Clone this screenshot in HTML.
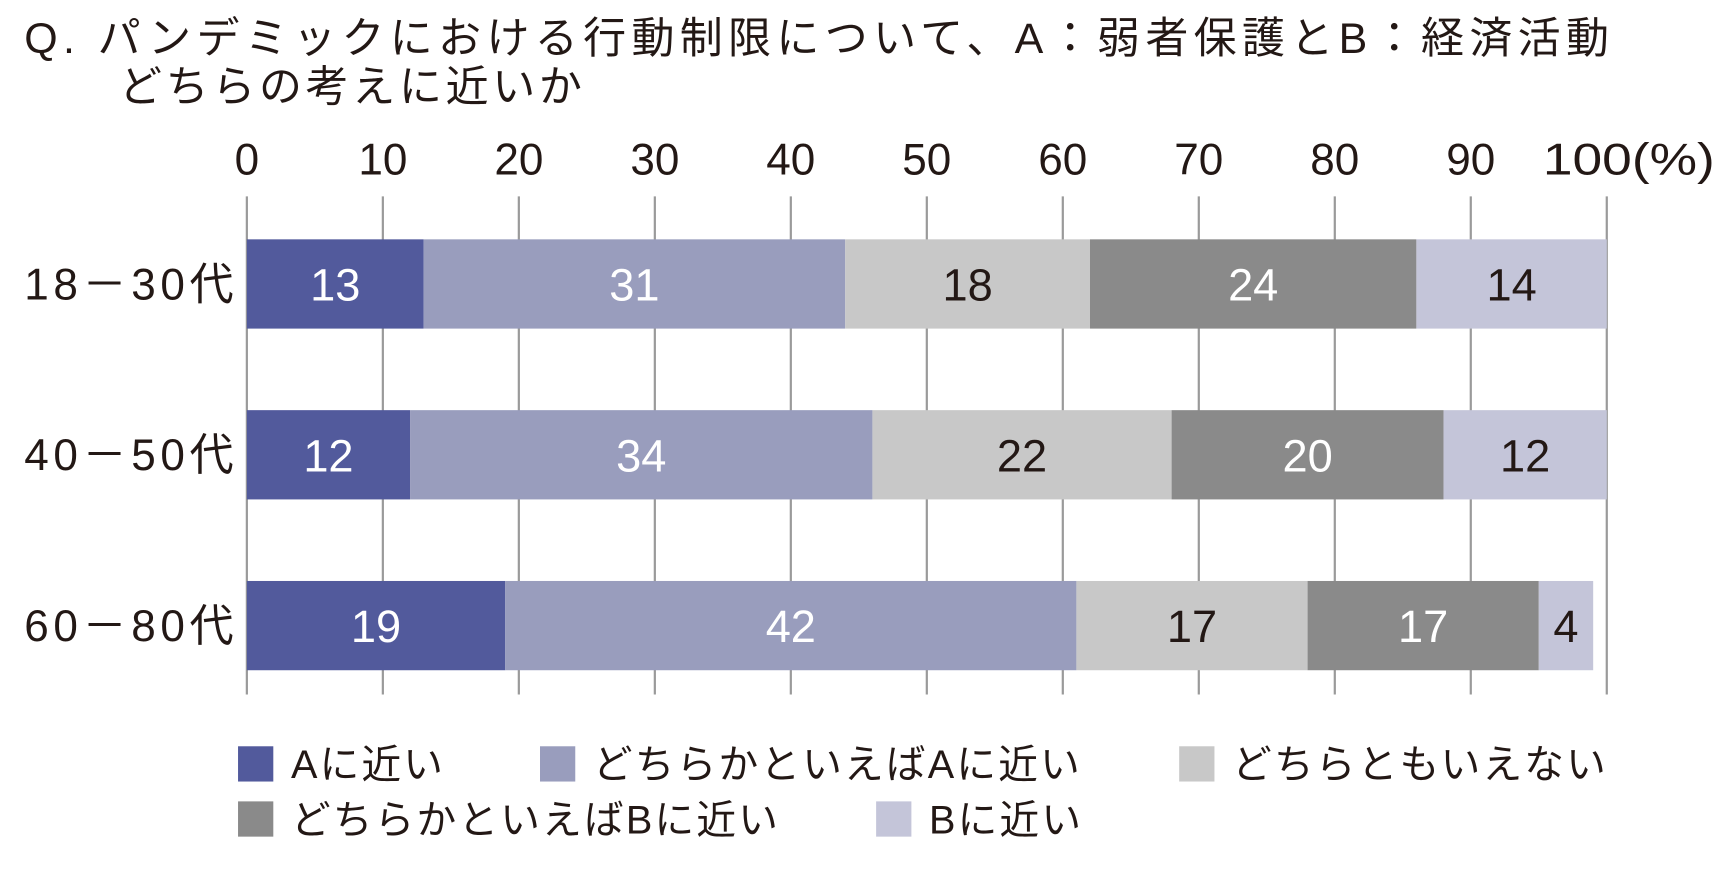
<!DOCTYPE html>
<html lang="ja"><head><meta charset="utf-8">
<style>
html,body{margin:0;padding:0;background:#fff;}
svg{display:block;font-family:"Liberation Sans","Noto Sans CJK JP",sans-serif;}
</style></head>
<body>
<svg id="chart" width="1728" height="871" viewBox="0 0 1568 790" xmlns="http://www.w3.org/2000/svg">
<text x="22" y="48" font-size="39" fill="#231815" textLength="1438" lengthAdjust="spacing">Q.  パンデミックにおける行動制限について、A：弱者保護とB：経済活動</text>
<text x="108" y="92" font-size="39" fill="#231815" textLength="420" lengthAdjust="spacing">どちらの考えに近いか</text>
<g id="grid"></g>
<g id="bars"></g>
<g id="legend"></g>
</svg>
<script>
const categories = ["18－30代","40－50代","60－80代"];
const seriesNames = ["Aに近い","どちらかといえばAに近い","どちらともいえない","どちらかといえばBに近い","Bに近い"];
const seriesA = [13,12,19];
const seriesLeanA = [31,34,42];
const seriesNeutral = [18,22,17];
const seriesLeanB = [24,20,17];
const seriesB = [14,12,4];
const tickLabels = [0,10,20,30,40,50,60,70,80,90,100];

const series = [seriesA, seriesLeanA, seriesNeutral, seriesLeanB, seriesB];
const colors = ["#525a9c","#999dbd","#c8c8c8","#8a8a8a","#c4c5d9"];
const textColors = ["#fff","#fff","#231815","#fff","#231815"];
const NS = "http://www.w3.org/2000/svg";
const x0 = 224, x1 = 1458;
const xs = v => x0 + (x1 - x0) * v / 100;
const rowY = i => 217 + i * 155;
const barH = 81;
function mk(tag, attrs, parent){const e=document.createElementNS(NS,tag);for(const k in attrs)e.setAttribute(k,attrs[k]);parent.appendChild(e);return e;}
const grid = document.getElementById('grid');
tickLabels.forEach(t=>{
  const l = mk('line',{x1:xs(t),x2:xs(t),y1:178,y2:630,stroke:'#9a9a9a','stroke-width':2},grid);
  
  
  const tx = mk('text',{x:xs(t),y:158,'font-size':40,'text-anchor':t===100?'start':'middle',fill:'#231815'},grid);
  if(t===100){tx.setAttribute('x',1400);tx.setAttribute('textLength',156);tx.setAttribute('lengthAdjust','spacingAndGlyphs');}
  tx.textContent = t===100 ? '100(%)' : String(t);
  
  
});
const bars = document.getElementById('bars');
categories.forEach((c,i)=>{
  const y = rowY(i);
  const lab = mk('text',{x:22,y:y+barH/2+14,'font-size':40,fill:'#231815',textLength:190,lengthAdjust:'spacing'},bars);
  lab.textContent = c;
  
  
  let cum = 0;
  series.forEach((s,j)=>{
    const v = s[i];
    const r = mk('rect',{x:xs(cum),y:y,width:xs(cum+v)-xs(cum),height:barH,fill:colors[j]},bars);
    
    
    const t = mk('text',{x:(xs(cum)+xs(cum+v))/2,y:y+barH/2+15,'font-size':41,'text-anchor':'middle',fill:textColors[j]},bars);
    t.textContent = String(v);
    
    
    cum += v;
  });
});
const legend = document.getElementById('legend');
const legPos = [[216,677],[490,677],[1070,677],[216,727],[795,727]];
seriesNames.forEach((n,j)=>{
  const [lx,ly] = legPos[j];
  const sq = mk('rect',{x:lx,y:ly,width:32,height:32,fill:colors[j]},legend);
  
  
  const t = mk('text',{x:lx+48,y:ly+29,'font-size':36,fill:'#231815','letter-spacing':2},legend);
  t.textContent = n;
  
  
});
</script>
</body></html>
